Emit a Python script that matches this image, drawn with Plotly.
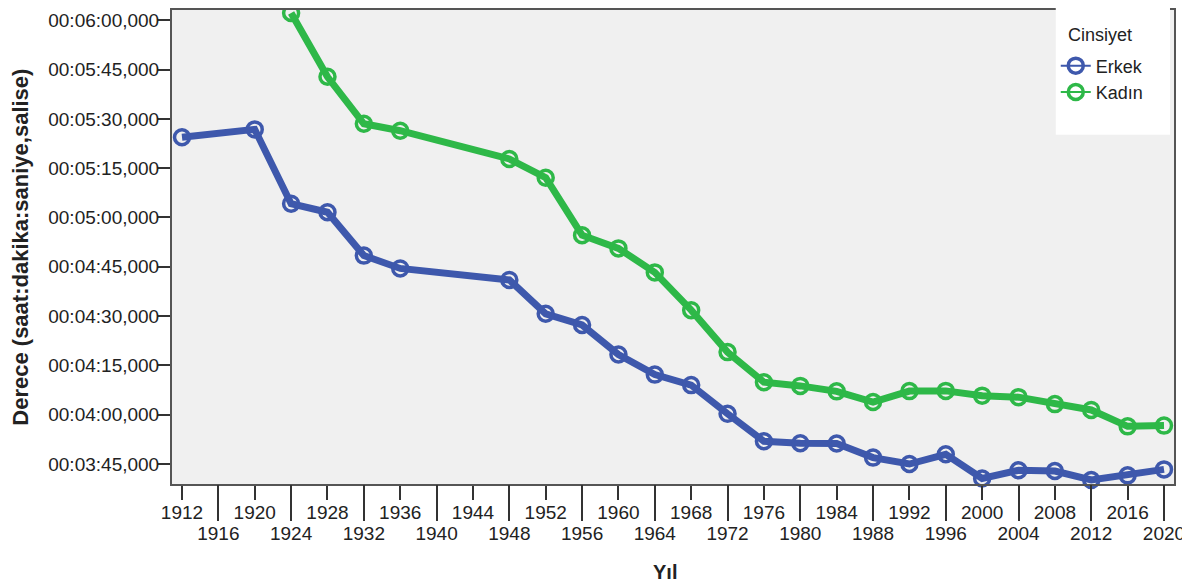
import plotly.graph_objects as go

# 400 m serbest stil - olimpiyat birincilerinin dereceleri (saniye)
erkek_yil = [1912, 1920, 1924, 1928, 1932, 1936, 1948, 1952, 1956, 1960, 1964, 1968, 1972,
             1976, 1980, 1984, 1988, 1992, 1996, 2000, 2004, 2008, 2012, 2016, 2020]
erkek_sure = [324.4, 326.8, 304.2, 301.6, 288.4, 284.5, 281.0, 270.7, 267.3, 258.3, 252.2, 249.0, 240.27,
              231.93, 231.31, 231.23, 226.95, 225.00, 227.97, 220.59, 223.10, 222.86, 220.14, 221.55, 223.36]

kadin_yil = [1924, 1928, 1932, 1936, 1948, 1952, 1956, 1960, 1964, 1968, 1972,
             1976, 1980, 1984, 1988, 1992, 1996, 2000, 2004, 2008, 2012, 2016, 2020]
kadin_sure = [362.2, 342.8, 328.5, 326.4, 317.8, 312.1, 294.6, 290.6, 283.3, 271.8, 259.04,
              249.89, 248.76, 247.10, 243.85, 247.18, 247.25, 245.80, 245.34, 243.22, 241.45, 236.46, 236.69]

y_tick_vals = [225, 240, 255, 270, 285, 300, 315, 330, 345, 360]
y_tick_text = ['00:03:45,000', '00:04:00,000', '00:04:15,000', '00:04:30,000', '00:04:45,000',
               '00:05:00,000', '00:05:15,000', '00:05:30,000', '00:05:45,000', '00:06:00,000']

# x ekseni etiketleri iki sira halinde
ust_sira = [1912, 1920, 1928, 1936, 1944, 1952, 1960, 1968, 1976, 1984, 1992, 2000, 2008, 2016]
alt_sira = [1916, 1924, 1932, 1940, 1948, 1956, 1964, 1972, 1980, 1988, 1996, 2004, 2012, 2020]

BLUE = '#3E58AC'
GREEN = '#2EB848'
FONT = 'Liberation Sans, Arial, sans-serif'
X_RANGE = [1910.9, 2021.1]
MARKER = dict(symbol='circle-open', size=15, line=dict(width=3.5))

fig = go.Figure()

# long-tick axis (x2) carries the women's line so it gets drawn
for name, xs, ys, color, xax in [('Erkek', erkek_yil, erkek_sure, BLUE, 'x'),
                                 ('Kadın', kadin_yil, kadin_sure, GREEN, 'x2')]:
    fig.add_trace(go.Scatter(x=xs, y=ys, mode='lines+markers', name=name, showlegend=False,
                             xaxis=xax, line=dict(color=color, width=7), cliponaxis=False,
                             marker=dict(MARKER, color=color)))
    # thin-line legend entry like the SPSS legend
    fig.add_trace(go.Scatter(x=[None], y=[None], mode='lines+markers', name=name,
                             line=dict(color=color, width=2), marker=dict(MARKER, color=color)))

fig.add_shape(type='rect', xref='paper', yref='paper', x0=0.882, x1=0.996, y0=0.737, y1=1.004,
              fillcolor='white', line=dict(width=0), layer='above')

fig.add_annotation(text='Cinsiyet', xref='paper', yref='paper', x=0.892, y=0.948,
                   showarrow=False, xanchor='left', yanchor='middle', font=dict(size=18, color='#222'))
fig.add_annotation(text='<b>Derece (saat:dakika:saniye,salise)</b>', xref='paper', yref='paper',
                   x=-0.152, y=0.50, textangle=-90, showarrow=False, xanchor='center', yanchor='middle',
                   font=dict(size=22, color='#222'))
fig.add_annotation(text='<b>Yıl</b>', xref='paper', yref='paper', x=0.492, y=-0.185,
                   showarrow=False, xanchor='center', yanchor='middle', font=dict(size=20, color='#222'))

fig.update_layout(
    width=1182, height=577,
    margin=dict(l=164, r=16, t=0, b=101),
    paper_bgcolor='white', plot_bgcolor='#F0F0F0',
    font=dict(family=FONT, size=19, color='#222'),
    legend=dict(x=0.882, y=0.921, xanchor='left', yanchor='top', bgcolor='rgba(0,0,0,0)',
                font=dict(size=18), itemwidth=30, tracegroupgap=0),
    xaxis=dict(range=X_RANGE, tickmode='array', tickvals=ust_sira, ticktext=[str(v) for v in ust_sira],
               ticks='outside', ticklen=14, tickwidth=2, tickcolor='#333', ticklabelstandoff=-4,
               showline=True, mirror=True, linecolor='#555', linewidth=2,
               showgrid=False, zeroline=False),
    xaxis2=dict(range=X_RANGE, overlaying='x', anchor='y', side='bottom', tickmode='array',
                tickvals=alt_sira, ticktext=[str(v) for v in alt_sira],
                ticks='outside', ticklen=36, tickwidth=2, tickcolor='#333', ticklabelstandoff=-4,
                showline=False, showgrid=False, zeroline=False),
    yaxis=dict(range=[218.92, 363.12], tickmode='array', tickvals=y_tick_vals, ticktext=y_tick_text,
               ticks='outside', ticklen=12, tickwidth=2, tickcolor='#333', ticklabelstandoff=-5,
               showline=True, mirror=True, linecolor='#555', linewidth=2,
               showgrid=False, zeroline=False),
)

fig.write_html("out.html")
